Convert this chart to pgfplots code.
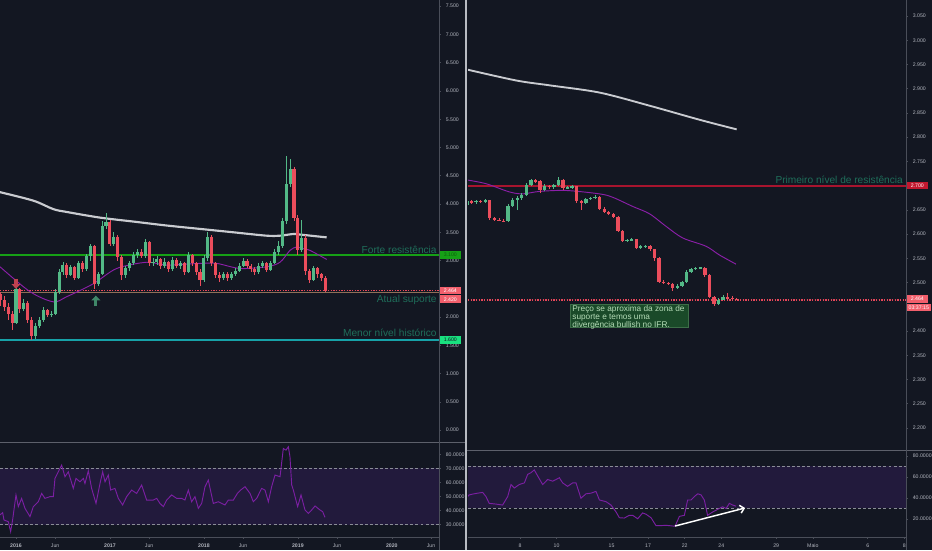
\documentclass[border=0pt]{standalone}
\usepackage{fontspec}
\setmainfont{Liberation Sans}
\usepackage{pgfplots}
\usepackage{pgfplotstable}
\pgfplotsset{compat=1.18}
\usetikzlibrary{arrows.meta}

\definecolor{bg}{HTML}{131722}
\definecolor{upc}{HTML}{53B987}
\definecolor{dnc}{HTML}{EB4D5C}
\definecolor{smaw}{HTML}{C9CBD0}
\definecolor{smap}{HTML}{8B1FA8}
\definecolor{rsil}{HTML}{7B1FA2}
\definecolor{rsib}{HTML}{221A3C}
\definecolor{dashg}{HTML}{8A8D96}
\definecolor{axg}{HTML}{4A4E59}
\definecolor{sepg}{HTML}{5D606B}
\definecolor{sepw}{HTML}{B8BBC2}
\definecolor{tickt}{HTML}{B2B5BE}
\definecolor{annot}{HTML}{1F6F5B}
\definecolor{resg}{HTML}{16A016}
\definecolor{tealc}{HTML}{17A2A8}
\definecolor{lowbox}{HTML}{19E07F}
\definecolor{redd}{HTML}{E8475A}
\definecolor{brownl}{HTML}{8F6E57}
\definecolor{redbox}{HTML}{F25F6C}
\definecolor{resred}{HTML}{A8142E}
\definecolor{crimbox}{HTML}{C2182F}
\definecolor{notef}{HTML}{1A4A29}
\definecolor{noted}{HTML}{3C6E48}
\definecolor{notet}{HTML}{B5DCB7}

% ---------- weekly-ish candles (left) : x in months since Jan 2016
\pgfplotstableread{
x o h l c
-2.0 2.40 2.45 2.20 2.30
-1.5 2.30 2.38 2.10 2.18
-1.0 2.18 2.25 1.95 2.05
-0.5 2.05 2.10 1.77 1.90
0.0 1.90 2.60 1.88 2.50
0.5 2.50 2.52 2.08 2.15
1.0 2.15 2.32 2.10 2.25
1.5 2.25 2.28 1.90 1.95
2.0 1.95 2.00 1.60 1.66
2.5 1.66 1.90 1.62 1.85
3.0 1.85 2.00 1.80 1.95
3.5 1.95 2.18 1.92 2.12
4.0 2.12 2.15 2.00 2.04
4.5 2.04 2.10 2.00 2.06
5.0 2.06 2.50 2.04 2.45
5.5 2.45 2.85 2.40 2.80
6.0 2.80 2.98 2.75 2.92
6.5 2.92 2.95 2.70 2.75
7.0 2.75 2.92 2.72 2.88
7.5 2.88 2.90 2.65 2.70
8.0 2.70 3.00 2.68 2.96
8.5 2.96 3.00 2.80 2.85
9.0 2.85 3.12 2.82 3.08
9.5 3.08 3.30 3.00 3.25
10.0 3.25 3.28 2.50 2.58
10.5 2.58 2.80 2.55 2.76
11.0 2.76 3.70 2.74 3.62
11.5 3.62 3.85 3.55 3.68
12.0 3.68 3.72 3.25 3.30
12.5 3.30 3.50 3.25 3.42
13.0 3.42 3.45 3.00 3.06
13.5 3.06 3.10 2.65 2.74
14.0 2.74 2.90 2.70 2.86
14.5 2.86 3.00 2.82 2.96
15.0 2.96 3.15 2.92 3.10
15.5 3.10 3.20 3.05 3.16
16.0 3.16 3.20 3.05 3.08
16.5 3.08 3.38 3.05 3.32
17.0 3.32 3.35 2.90 2.96
17.5 2.96 3.05 2.90 2.98
18.0 2.98 3.08 2.92 3.02
18.5 3.02 3.05 2.85 2.90
19.0 2.90 3.05 2.86 2.97
19.5 2.97 3.00 2.80 2.85
20.0 2.85 3.06 2.82 3.01
20.5 3.01 3.05 2.86 2.90
21.0 2.90 3.00 2.85 2.96
21.5 2.96 2.98 2.75 2.80
22.0 2.80 3.15 2.78 3.10
22.5 3.10 3.12 2.90 2.95
23.0 2.95 2.98 2.75 2.80
23.5 2.80 2.85 2.55 2.65
24.0 2.65 3.10 2.62 3.05
24.5 3.05 3.50 3.00 3.42
25.0 3.42 3.45 2.90 2.95
25.5 2.95 2.98 2.70 2.75
26.0 2.75 2.80 2.62 2.69
26.5 2.69 2.80 2.65 2.76
27.0 2.76 2.79 2.64 2.70
27.5 2.70 2.80 2.66 2.76
28.0 2.76 2.86 2.72 2.82
28.5 2.82 2.95 2.80 2.91
29.0 2.91 3.05 2.88 3.00
29.5 3.00 3.02 2.86 2.90
30.0 2.90 2.94 2.80 2.85
30.5 2.85 2.88 2.75 2.79
31.0 2.79 2.95 2.76 2.90
31.5 2.90 3.00 2.86 2.96
32.0 2.96 2.98 2.80 2.84
32.5 2.84 3.00 2.82 2.96
33.0 2.96 3.20 2.94 3.15
33.5 3.15 3.35 3.10 3.26
34.0 3.26 3.75 3.22 3.70
34.5 3.70 4.85 3.65 4.35
35.0 4.35 4.80 4.30 4.62
35.5 4.62 4.65 3.70 3.76
36.0 3.76 3.80 3.10 3.18
36.5 3.18 3.72 3.15 3.40
37.0 3.40 3.45 2.75 2.82
37.5 2.82 2.85 2.60 2.66
38.0 2.66 2.90 2.63 2.86
38.5 2.86 2.88 2.70 2.76
39.0 2.76 2.78 2.64 2.70
39.5 2.70 2.72 2.44 2.464
}\leftc

% ---------- hourly-ish candles (right) : x in trading days from 8 Apr
\pgfplotstableread{
x o h l c
-2.90 2.660 2.672 2.655 2.668
-2.65 2.668 2.670 2.662 2.666
-2.40 2.666 2.671 2.663 2.669
-2.15 2.669 2.671 2.664 2.667
-1.90 2.667 2.673 2.665 2.670
-1.65 2.670 2.671 2.630 2.633
-1.40 2.633 2.636 2.628 2.630
-1.15 2.630 2.633 2.626 2.628
-0.90 2.628 2.631 2.624 2.626
-0.65 2.626 2.662 2.624 2.658
-0.40 2.658 2.675 2.655 2.671
-0.15 2.671 2.678 2.650 2.674
0.10 2.674 2.684 2.670 2.680
0.35 2.680 2.705 2.678 2.702
0.60 2.702 2.714 2.700 2.711
0.85 2.711 2.713 2.706 2.709
1.10 2.709 2.711 2.685 2.690
1.35 2.690 2.703 2.688 2.700
1.60 2.700 2.702 2.694 2.698
1.85 2.698 2.704 2.693 2.701
2.10 2.701 2.718 2.699 2.712
2.35 2.712 2.713 2.690 2.695
2.60 2.695 2.700 2.692 2.697
2.85 2.697 2.701 2.693 2.699
3.10 2.699 2.700 2.665 2.668
3.35 2.668 2.670 2.650 2.664
3.60 2.664 2.674 2.662 2.672
3.85 2.672 2.677 2.670 2.675
4.10 2.675 2.680 2.672 2.677
4.35 2.677 2.678 2.650 2.652
4.60 2.652 2.655 2.643 2.645
4.85 2.645 2.648 2.639 2.641
5.10 2.641 2.643 2.633 2.636
5.35 2.636 2.638 2.604 2.607
5.60 2.607 2.609 2.584 2.586
5.85 2.586 2.590 2.583 2.588
6.10 2.588 2.592 2.585 2.589
6.35 2.589 2.590 2.570 2.572
6.60 2.572 2.577 2.570 2.575
6.85 2.575 2.578 2.572 2.576
7.10 2.576 2.577 2.566 2.569
7.35 2.569 2.570 2.545 2.550
7.60 2.550 2.552 2.500 2.502
7.85 2.502 2.505 2.498 2.500
8.10 2.500 2.502 2.494 2.497
8.35 2.497 2.499 2.482 2.488
8.60 2.488 2.496 2.486 2.493
8.85 2.493 2.503 2.491 2.501
9.10 2.501 2.526 2.499 2.522
9.35 2.522 2.530 2.520 2.528
9.60 2.528 2.532 2.525 2.530
9.85 2.530 2.533 2.527 2.531
10.10 2.531 2.532 2.512 2.516
10.35 2.516 2.518 2.468 2.471
10.60 2.471 2.473 2.451 2.455
10.85 2.455 2.468 2.454 2.465
11.10 2.465 2.474 2.463 2.470
11.35 2.470 2.478 2.466 2.468
11.60 2.468 2.472 2.464 2.467
11.85 2.467 2.468 2.463 2.464
}\rightc

% #1 table, #2 body width, #3 min half body
\newcommand\candles[3]{%
 \addplot[draw=none, mark=none, forget plot,
   restrict expr to domain={\thisrow{c}-\thisrow{o}}{0:10},
   error bars/.cd, y dir=both, y explicit, error mark=none,
   error bar style={draw=upc, line width=0.6pt}]
   table[x=x, y expr={(\thisrow{h}+\thisrow{l})/2}, y error expr={(\thisrow{h}-\thisrow{l})/2}] {#1};
 \addplot[draw=none, mark=none, forget plot,
   restrict expr to domain={\thisrow{c}-\thisrow{o}}{-10:-0.00001},
   error bars/.cd, y dir=both, y explicit, error mark=none,
   error bar style={draw=dnc, line width=0.6pt}]
   table[x=x, y expr={(\thisrow{h}+\thisrow{l})/2}, y error expr={(\thisrow{h}-\thisrow{l})/2}] {#1};
 \addplot[draw=none, mark=none, forget plot,
   restrict expr to domain={\thisrow{c}-\thisrow{o}}{0:10},
   error bars/.cd, y dir=both, y explicit, error mark=none,
   error bar style={draw=upc, line width=#2}]
   table[x=x, y expr={(\thisrow{o}+\thisrow{c})/2}, y error expr={max(abs(\thisrow{c}-\thisrow{o})/2,#3)}] {#1};
 \addplot[draw=none, mark=none, forget plot,
   restrict expr to domain={\thisrow{c}-\thisrow{o}}{-10:-0.00001},
   error bars/.cd, y dir=both, y explicit, error mark=none,
   error bar style={draw=dnc, line width=#2}]
   table[x=x, y expr={(\thisrow{o}+\thisrow{c})/2}, y error expr={max(abs(\thisrow{c}-\thisrow{o})/2,#3)}] {#1};
}

\pgfplotsset{
  tv/.style={
    scale only axis, anchor=south west, clip mode=individual,
    axis line style={draw=axg, line width=0.6pt},
    tick style={draw=axg, line width=0.5pt},
    major tick length=1.6pt, tick align=outside,
    ticklabel style={font=\fontsize{3.9}{4.5}\selectfont, text=tickt},
    /pgf/number format/assume math mode=true,
    scaled y ticks=false, scaled x ticks=false,
    axis y line*=right,
  },
  pricey/.style={yticklabel style={/pgf/number format/fixed, /pgf/number format/fixed zerofill, /pgf/number format/precision=3}},
  rsiy/.style={yticklabel style={/pgf/number format/fixed, /pgf/number format/fixed zerofill, /pgf/number format/precision=4}},
}
\tikzset{
  lab/.style={font=\fontsize{7.6}{8}\selectfont, text=annot, inner sep=0pt},
  box/.style={anchor=west, inner sep=0pt, minimum height=5.8pt, minimum width=15.75pt, font=\fontsize{3.9}{4.5}\selectfont, xshift=0.4pt},
}

\begin{document}
\begin{tikzpicture}
\path[use as bounding box] (0,0) rectangle (699pt,412.5pt);
\fill[bg] (0,0) rectangle (699pt,412.5pt);

% ================= LEFT MAIN =================
\begin{axis}[tv, pricey, at={(0pt,81pt)}, width=329.25pt, height=331.5pt,
  axis x line=none, xmin=-2.04, xmax=54.02, ymin=-0.21, ymax=7.61,
  ytick={0,0.5,1,1.5,2,3,3.5,4,4.5,5,5.5,6,6.5,7,7.5}]
 \draw[resg, line width=1.1pt] (axis cs:-2.04,3.10) -- (axis cs:54.02,3.10);
 \draw[tealc, line width=1.5pt] (axis cs:-2.04,1.60) -- (axis cs:54.02,1.60);
 \draw[brownl, line width=1pt] (axis cs:-2.04,2.43) -- (axis cs:54.02,2.43);
 \draw[redd, line width=0.8pt, dash pattern=on 1pt off 1pt] (axis cs:-2.04,2.464) -- (axis cs:54.02,2.464);
 \addplot[smaw, line width=1.6pt, smooth] coordinates {(-2.04,4.21) (2.21,4.06) (4.77,3.91) (6.47,3.86) (10.72,3.76) (14.98,3.69) (19.24,3.62) (23.50,3.56) (27.76,3.50) (32.01,3.44) (33.72,3.44) (35.42,3.47) (36.27,3.46) (39.68,3.41)};
 \addplot[smap, line width=0.7pt, smooth] coordinates {(-2.04,2.89) (1.79,2.45) (4.77,2.27) (6.47,2.36) (9.88,2.59) (12.86,2.86) (16.69,2.97) (19.24,2.92) (23.50,2.95) (25.63,2.95) (28.61,2.86) (32.01,2.89) (33.72,2.97) (34.99,3.18) (35.85,3.24) (36.70,3.21) (37.55,3.18) (39.68,3.02)};
 \candles{\leftc}{2.3pt}{0.006}
 \draw[dnc!80!bg, line width=2.4pt, -{Triangle[width=6.5pt,length=3.5pt]}] (axis cs:0,2.68) -- (axis cs:0,2.50);
 \draw[upc!70!bg, line width=2.4pt, -{Triangle[width=6.5pt,length=3.5pt]}] (axis cs:10.2,2.19) -- (axis cs:10.2,2.38);
 \node[lab, anchor=base east] at (axis cs:53.75,3.133) {Forte resistência};
 \node[lab, anchor=base east] at (axis cs:53.75,2.258) {Atual suporte};
 \node[lab, anchor=base east] at (axis cs:53.75,1.665) {Menor nível histórico};
 \node[box, fill=resg, text=resg!60!black] at (axis cs:54.02,3.10) {3.100};
 \node[box, fill=redbox, text=white] at (axis cs:54.02,2.47) {2.464};
 \node[box, fill=redbox, text=white] at (axis cs:54.02,2.315) {2.420};
 \node[box, fill=lowbox, text=bg] at (axis cs:54.02,1.60) {1.600};
\end{axis}

% ================= LEFT RSI =================
\begin{axis}[tv, rsiy, at={(0pt,9.75pt)}, width=329.25pt, height=71.25pt,
  axis x line*=bottom, xmin=-2.04, xmax=54.02, ymin=21.2, ymax=88.8,
  ytick={30,40,50,60,70,80},
  xtick={0,5,12,17,24,29,36,41,48,53},
  xticklabels={\textbf{2016},Jun,\textbf{2017},Jun,\textbf{2018},Jun,\textbf{2019},Jun,\textbf{2020},Jun}]
 \fill[rsib] (axis cs:-2.04,30) rectangle (axis cs:54.02,70);
 \draw[dashg, line width=0.5pt, dash pattern=on 2.2pt off 1.6pt] (axis cs:-2.04,70) -- (axis cs:54.02,70);
 \draw[dashg, line width=0.5pt, dash pattern=on 2.2pt off 1.6pt] (axis cs:-2.04,30) -- (axis cs:54.02,30);
 \addplot[rsil, line width=0.7pt] coordinates {(-2.04,36.9) (-1.70,38.5) (-1.53,33.3) (-0.98,32.1) (-0.68,25.0) (-0.43,33.3) (0.0,51.1) (0.30,42.8) (0.72,48.7) (1.15,41.6) (1.79,35.7) (2.21,42.8) (2.85,46.3) (3.28,52.2) (3.70,48.7) (4.34,49.9) (4.77,49.9) (4.98,62.9) (5.83,72.4) (6.26,64.1) (6.68,67.6) (7.32,55.8) (7.66,62.9) (8.17,60.5) (8.60,62.9) (8.81,59.3) (9.24,68.3) (9.66,55.8) (10.22,45.1) (10.73,59.3) (11.07,67.6) (11.37,60.5) (11.79,65.3) (12.09,54.6) (12.64,55.8) (13.07,48.7) (13.62,44.0) (14.13,49.9) (14.77,54.6) (15.41,52.2) (16.05,58.2) (16.69,47.5) (17.54,47.5) (17.97,48.7) (18.39,45.1) (18.82,42.8) (19.24,47.5) (19.88,51.1) (20.52,48.7) (21.16,48.7) (21.58,47.5) (22.01,54.6) (22.43,46.3) (22.86,49.9) (23.29,41.6) (23.71,45.1) (24.14,57.0) (24.56,61.7) (25.20,45.1) (25.84,46.3) (26.27,45.1) (26.69,44.0) (27.12,47.5) (27.76,47.5) (28.27,52.2) (28.69,54.6) (29.25,57.0) (29.89,52.2) (30.31,46.3) (30.74,48.7) (31.37,55.8) (31.80,54.6) (32.23,46.3) (32.65,57.0) (33.08,65.3) (33.72,64.1) (34.14,84.2) (34.48,83.0) (34.78,85.4) (34.99,78.3) (35.21,58.2) (35.42,54.6) (35.97,42.8) (36.40,51.1) (36.91,40.4) (37.33,38.0) (37.76,40.4) (38.19,43.3) (38.83,40.4) (39.17,39.2) (39.46,35.2)};
\end{axis}

% ================= RIGHT MAIN =================
\begin{axis}[tv, pricey, at={(351pt,75pt)}, width=328.5pt, height=337.5pt,
  axis x line=none, xmin=-2.84, xmax=21.09, ymin=2.1545, ymax=3.083,
  ytick={2.2,2.25,2.3,2.35,2.4,2.5,2.55,2.6,2.65,2.75,2.8,2.85,2.9,2.95,3.0,3.05}]
 \addplot[resred, line width=1.5pt, forget plot] coordinates {(-2.84,2.70) (21.09,2.70)};
 \draw[redd, line width=0.8pt, dash pattern=on 1pt off 1pt] (axis cs:-2.84,2.464) -- (axis cs:21.09,2.464);
 \addplot[smaw, line width=1.4pt, smooth] coordinates {(-2.95,2.940) (-0.22,2.917) (1.60,2.907) (4.34,2.892) (7.07,2.865) (9.80,2.836) (11.84,2.816)};
 \addplot[smap, line width=0.7pt, smooth] coordinates {(-2.95,2.712) (-1.86,2.704) (-0.58,2.687) (0.15,2.683) (1.06,2.688) (2.51,2.690) (4.34,2.683) (5.06,2.676) (6.16,2.657) (7.07,2.642) (7.98,2.616) (8.89,2.592) (10.16,2.575) (10.89,2.557) (11.80,2.538)};
 \candles{\rightc}{2.5pt}{0.0008}
 \node[lab, anchor=base east] at (axis cs:20.93,2.7035) {Primeiro nível de resistência};
 \draw[noted, fill=notef, line width=0.5pt] (axis cs:2.73,2.456) rectangle (axis cs:9.18,2.4066);
 \node[anchor=north west, inner sep=0pt, align=left, text=notet, font=\fontsize{6.2}{6.1}\selectfont] at (axis cs:2.85,2.453) {Preço se aproxima da zona de\\suporte e temos uma\\divergência bullish no IFR.};
 \node[box, fill=crimbox, text=white] at (axis cs:21.09,2.70) {2.700};
 \node[box, fill=redbox, text=white] at (axis cs:21.09,2.4665) {2.464};
 \node[box, fill=redbox, text=white, minimum width=18pt] at (axis cs:21.09,2.4485) {03:37:15};
\end{axis}

% ================= RIGHT RSI =================
\begin{axis}[tv, rsiy, at={(351pt,9.75pt)}, width=328.5pt, height=65.25pt,
  axis x line*=bottom, xmin=-2.84, xmax=21.09, ymin=2.86, ymax=85.7,
  ytick={20,40,60,80},
  xtick={0,2,5,7,9,11,14,16,19,21},
  xticklabels={8,10,15,17,22,24,29,Maio,6,8}]
 \fill[rsib] (axis cs:-2.84,30) rectangle (axis cs:21.09,70);
 \draw[dashg, line width=0.5pt, dash pattern=on 2.2pt off 1.6pt] (axis cs:-2.84,70) -- (axis cs:21.09,70);
 \draw[dashg, line width=0.5pt, dash pattern=on 2.2pt off 1.6pt] (axis cs:-2.84,30) -- (axis cs:21.09,30);
 \addplot[rsil, line width=0.7pt] coordinates {(-2.95,39.8) (-2.77,43.0) (-2.50,44.0) (-2.31,44.6) (-2.04,45.3) (-1.86,41.4) (-1.68,34.9) (-1.31,34.2) (-0.95,33.3) (-0.67,41.4) (-0.49,52.8) (-0.31,49.5) (-0.04,52.8) (0.24,54.4) (0.42,62.5) (0.60,64.1) (0.78,66.7) (0.97,60.9) (1.24,52.8) (1.51,57.6) (1.78,56.0) (1.97,57.6) (2.15,59.3) (2.33,54.4) (2.60,51.1) (2.88,54.4) (3.06,54.4) (3.33,39.8) (3.61,44.0) (3.88,44.6) (4.15,46.3) (4.34,38.1) (4.70,36.5) (4.97,33.3) (5.25,26.7) (5.43,21.2) (5.70,20.9) (5.97,23.5) (6.16,23.5) (6.43,20.2) (6.70,25.8) (6.89,24.5) (7.16,21.2) (7.43,13.7) (7.70,13.7) (7.98,14.0) (8.47,13.1) (8.71,22.5) (8.98,23.5) (9.16,38.1) (9.34,38.1) (9.53,41.4) (9.71,44.0) (9.89,43.0) (10.07,38.1) (10.25,23.5) (10.53,26.7) (10.89,30.0) (11.07,31.6) (11.26,30.0) (11.44,34.9) (11.62,33.3) (11.80,32.3)};
 \draw[white, line width=1.1pt, -{Straight Barb[length=3pt,width=6pt]}] (axis cs:8.47,13.3) -- (axis cs:12.3,30.5);
\end{axis}

% frame / separators
\draw[sepg, line width=0.6pt] (0pt,81pt) -- (349.5pt,81pt);
\draw[sepg, line width=0.6pt] (349.5pt,75pt) -- (699pt,75pt);
\draw[axg, line width=0.6pt] (329.25pt,0pt) -- (329.25pt,412.5pt);
\draw[axg, line width=0.6pt] (679.5pt,0pt) -- (679.5pt,412.5pt);
\draw[sepw, line width=1.2pt] (349.5pt,0pt) -- (349.5pt,412.5pt);
\end{tikzpicture}
\end{document}
